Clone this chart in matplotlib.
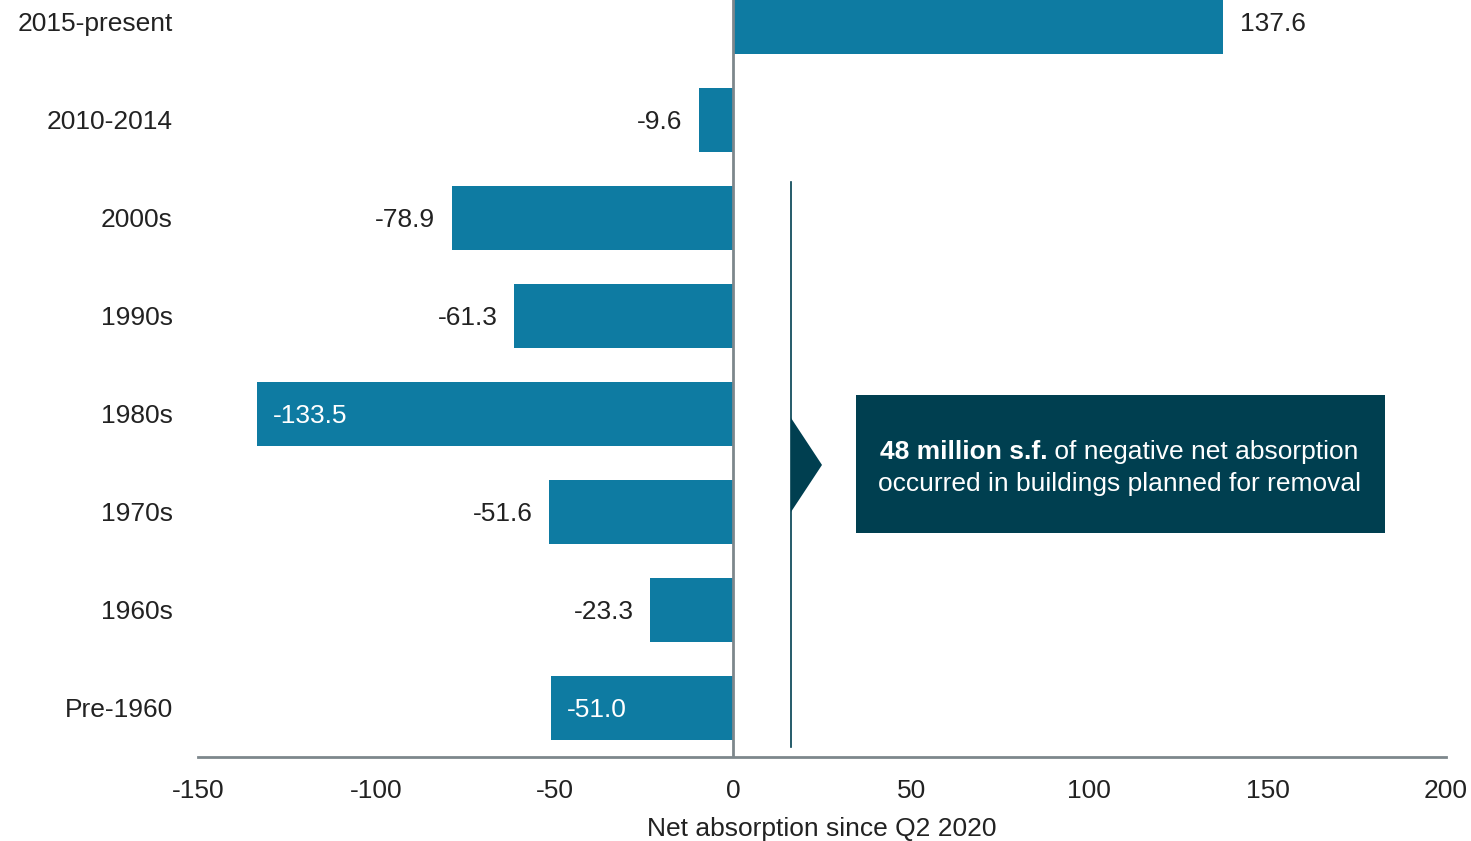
import matplotlib.pyplot as plt
from matplotlib.patches import Rectangle, Polygon

plt.rcParams['font.family'] = ['Liberation Sans', 'DejaVu Sans']
plt.rcParams['axes.unicode_minus'] = False

categories = ['Pre-1960', '1960s', '1970s', '1980s', '1990s', '2000s', '2010-2014', '2015-present']
values = [-51.0, -23.3, -51.6, -133.5, -61.3, -78.9, -9.6, 137.6]
inside_labels = ['Pre-1960', '1980s']

bar_color = '#0e7ba2'
dark = '#003f50'
grey = '#7d878c'
fs = 19

fig = plt.figure(figsize=(14.71, 8.41), dpi=100)
ax = fig.add_axes([198 / 1471, 1 - 757 / 841, 1248 / 1471, 757 / 841])

pos = list(range(len(categories)))
ax.barh(pos, values, height=0.655, color=bar_color, zorder=2)

for p, cat, v in zip(pos, categories, values):
    txt = f'{v:.1f}'
    if cat in inside_labels:
        ax.text(v + 4.5, p, txt, ha='left', va='center_baseline', color='white', fontsize=fs)
    elif v >= 0:
        ax.text(v + 4.5, p, txt, ha='left', va='center_baseline', color='#222222', fontsize=fs)
    else:
        ax.text(v - 4.5, p, txt, ha='right', va='center_baseline', color='#222222', fontsize=fs)

ax.set_xlim(-150, 200)
ax.set_ylim(-0.5, 7.224)
ax.set_xticks([-150, -100, -50, 0, 50, 100, 150, 200])
ax.set_yticks(pos)
ax.set_yticklabels(categories)
ax.tick_params(axis='both', length=0, labelsize=fs, colors='#222222')
ax.tick_params(axis='y', pad=18)
ax.tick_params(axis='x', pad=16)
for s in ['top', 'right', 'left']:
    ax.spines[s].set_visible(False)
ax.spines['bottom'].set_color(grey)
ax.spines['bottom'].set_linewidth(2)
ax.axvline(0, color=grey, linewidth=2, zorder=3)
ax.set_xlabel('Net absorption since Q2 2020', fontsize=fs, color='#222222', labelpad=10)

# callout
ax.plot([16.3, 16.3], [5.37, -0.40], color=dark, linewidth=1.2, zorder=3)
ax.add_patch(Polygon([[16.3, 2.96], [25.0, 2.48], [16.3, 2.0]], closed=True,
                     facecolor=dark, edgecolor='none', zorder=3))
ax.add_patch(Rectangle((34.5, 1.786), 148.3, 1.404, facecolor=dark, edgecolor='none', zorder=3))
t1 = ax.text(41.2, 2.54, '48 million s.f.', ha='left', va='baseline', color='white',
             fontsize=fs, fontweight='bold', zorder=4)
ax.annotate(' of negative net absorption', xy=(1, 0), xycoords=t1, ha='left', va='bottom',
            color='white', fontsize=fs, zorder=4)
ax.text(40.7, 2.21, 'occurred in buildings planned for removal', ha='left', va='baseline',
        color='white', fontsize=fs, zorder=4)

fig.savefig('out.png', dpi=100)
